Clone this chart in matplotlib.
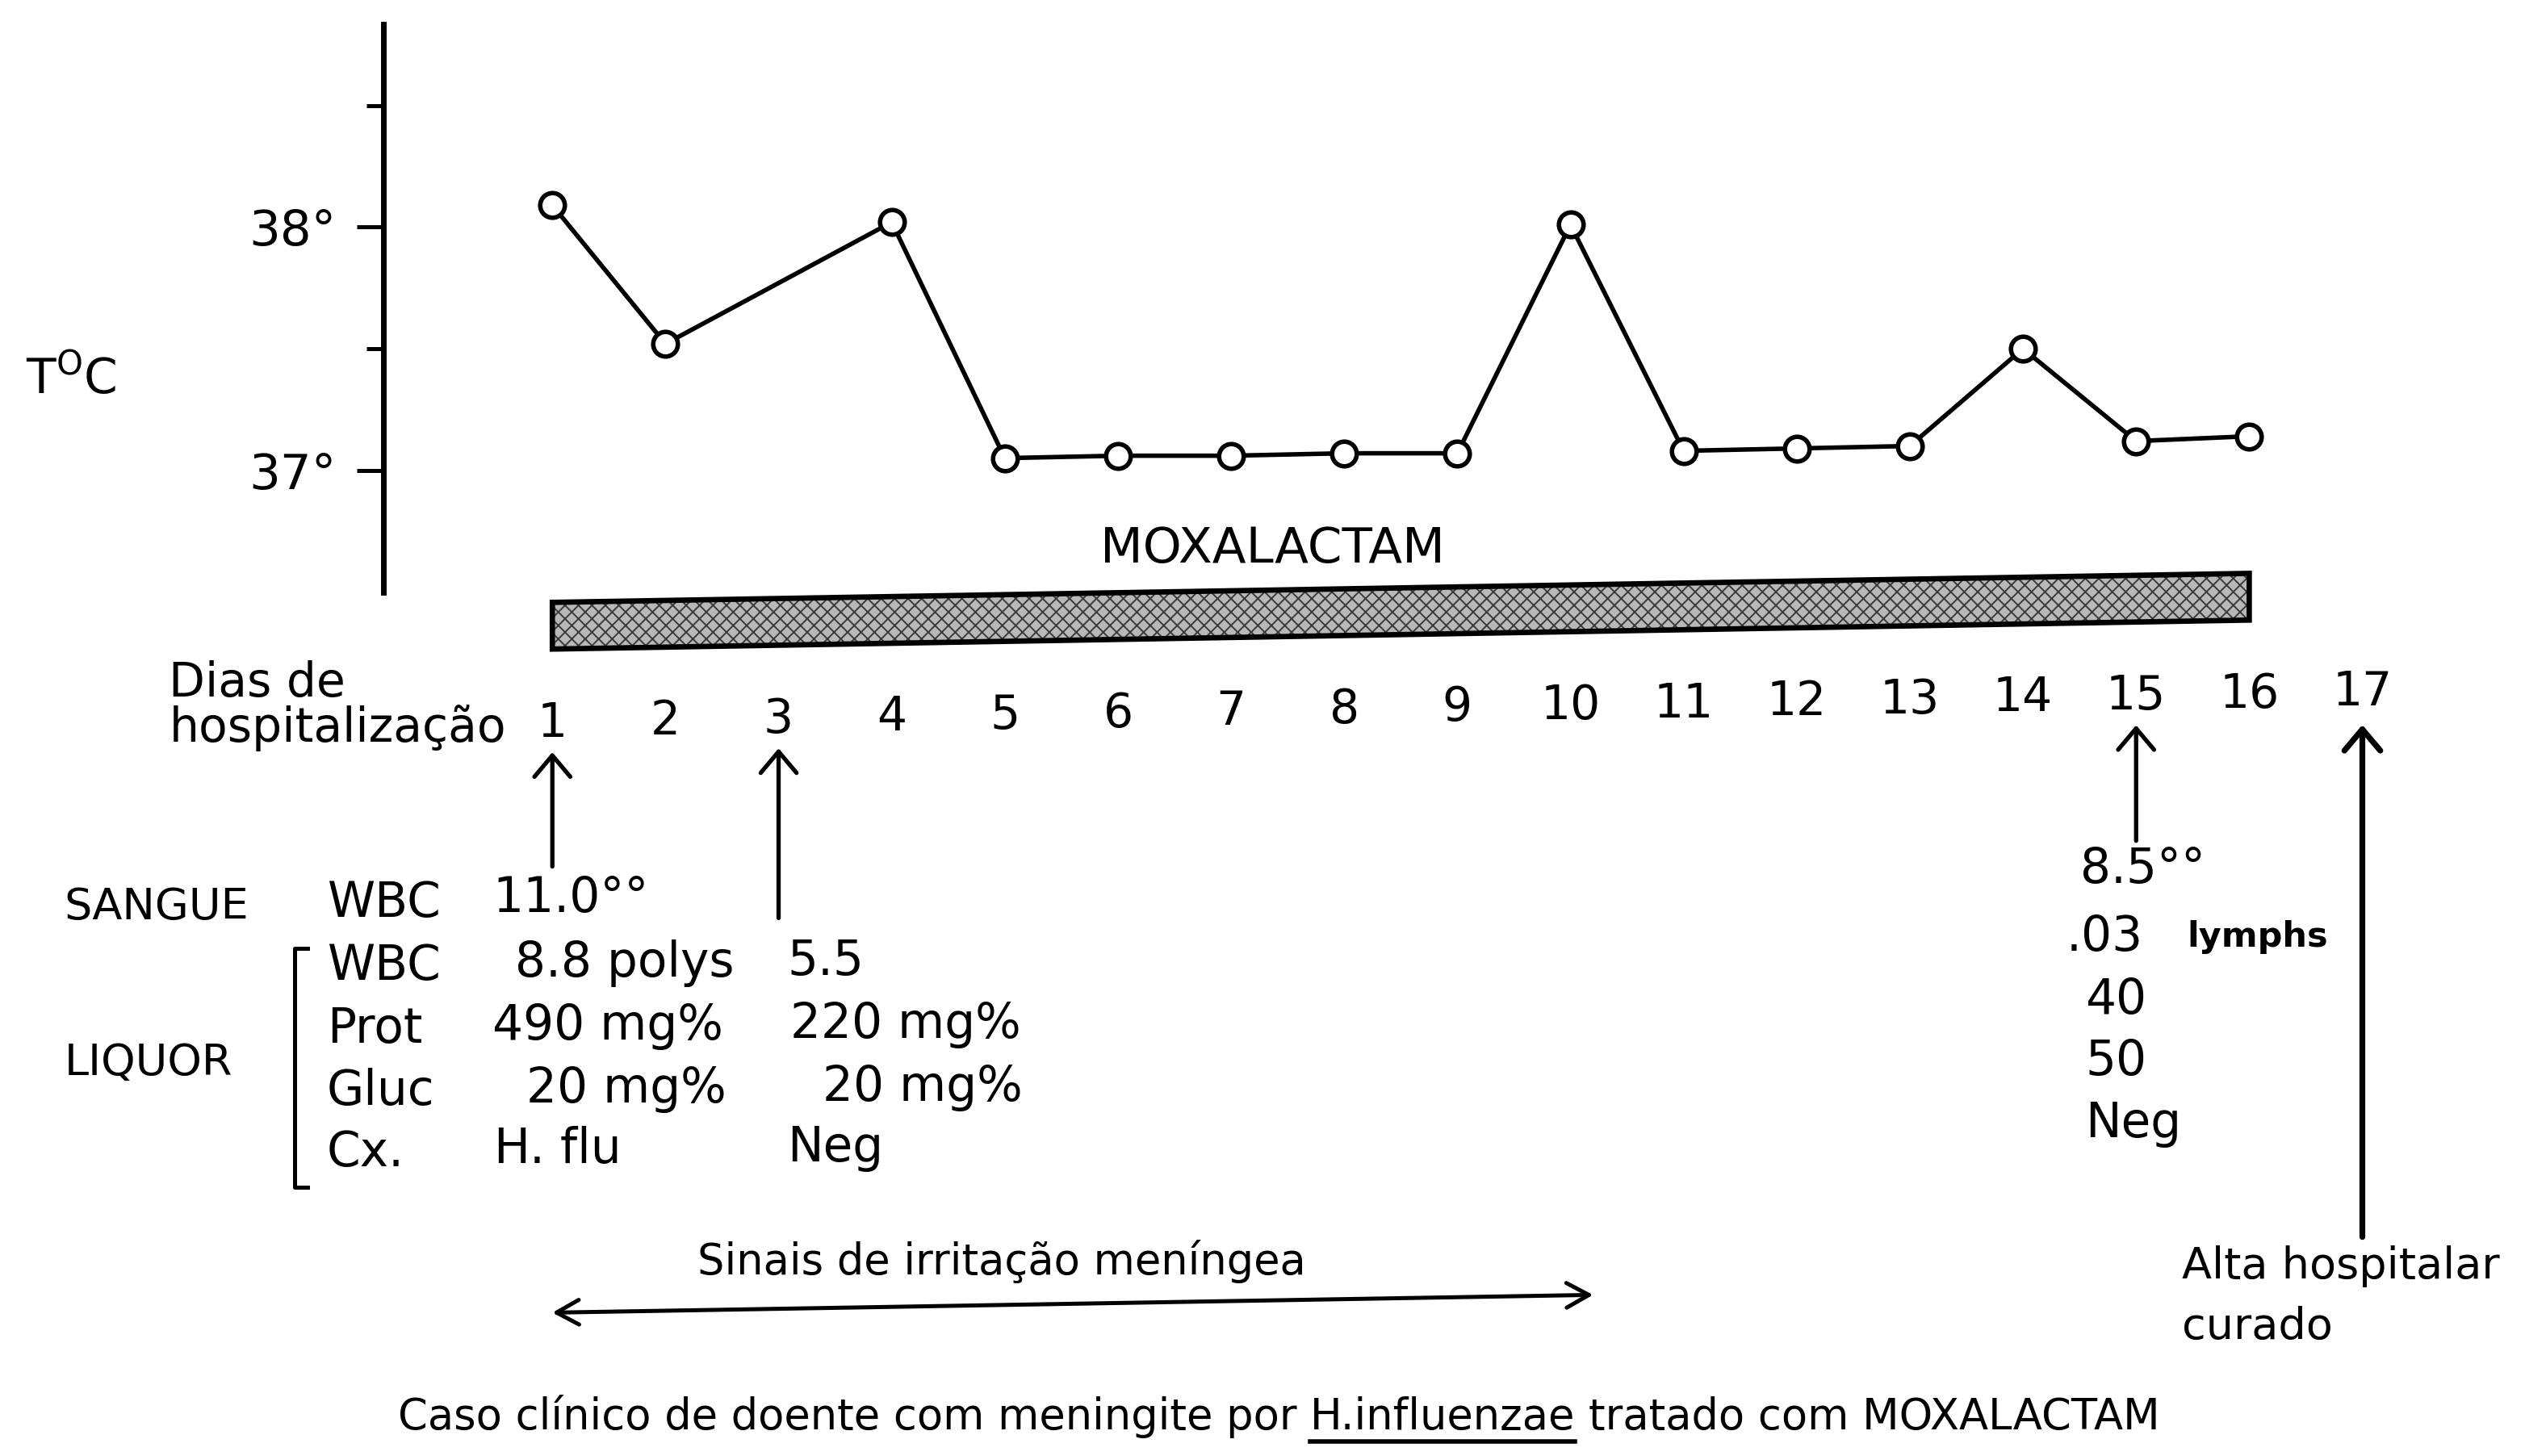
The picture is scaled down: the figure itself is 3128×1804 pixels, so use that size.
import matplotlib
matplotlib.use('Agg')
from matplotlib import pyplot as plt
from matplotlib import transforms
from matplotlib.patches import Polygon
from matplotlib.lines import Line2D

plt.rcParams['font.family'] = ['DejaVu Sans']
plt.rcParams['axes.spines.right'] = False
plt.rcParams['axes.spines.top'] = False
plt.rcParams['axes.spines.bottom'] = False
plt.rcParams['hatch.linewidth'] = 0.7

# temperature per hospital day (no reading on day 3)
days = [1, 2, 4, 5, 6, 7, 8, 9, 10, 11, 12, 13, 14, 15, 16]
temps = [38.09, 37.52, 38.02, 37.05, 37.06, 37.06, 37.07, 37.07, 38.01,
         37.08, 37.09, 37.10, 37.50, 37.12, 37.14]
day_ticks = list(range(1, 18))
temp_ticks = [37, 38]
temp_labels = ['37°', '38°']

treatment = (1, 16)          # MOXALACTAM
exam_days = [1, 3, 15]
discharge_day = 17
meningeal_signs = (1, 10.2)

# lab results
row_names = ['WBC', 'Prot', 'Gluc', 'Cx.']
day1_vals = ['8.8 polys', '490 mg%', '20 mg%', 'H. flu']
day3_vals = ['5.5', '220 mg%', '20 mg%', 'Neg']
day15_vals = ['.03', '40', '50', 'Neg']
blood_wbc = ['11.0°°', '8.5°°']

# layout grid (reference is 1568 x 904 at half size)
W, H = 1568.0, 904.0
def fx(x):
    return x / W
def fy(y):
    return 1 - y / H
SKEW = 1.2   # scan tilt, px per day


fig = plt.figure(figsize=(15.64, 9.02), dpi=200)
ax = fig.add_axes([fx(238), fy(368), fx(1500) - fx(238), fy(15) - fy(368)])
ax.patch.set_alpha(0)

ax.plot(days, temps, color='black', lw=2.0, marker='o', ms=11,
        mfc='white', mec='black', mew=2.0, clip_on=False)
ax.set_xlim((238 - 272.75) / 70.25, (1500 - 272.75) / 70.25)
ax.set_ylim(37 - (368 - 292) / 151, 37 + (292 - 15) / 151)
ax.set_xticks([])
ax.set_yticks(temp_ticks, temp_labels)
ax.set_yticks([37.5, 38.5], minor=True)
ax.tick_params(axis='y', which='major', length=12, width=1.8, labelsize=22, pad=9)
ax.tick_params(axis='y', which='minor', length=7.5, width=1.8)
ax.spines['left'].set_linewidth(2.5)

fig.text(fx(16), fy(236), r'T$^{\rm O}$C', fontsize=21.5, va='center', ha='left')

trans = transforms.blended_transform_factory(ax.transData, fig.transFigure)

# treatment bar
x0, x1 = treatment
sk = (x1 - x0) * SKEW
bar_pts = [(x0, fy(403)), (x1, fy(403 - sk)), (x1, fy(374 - sk)), (x0, fy(374))]
ax.add_patch(Polygon(bar_pts, closed=True, transform=trans, facecolor='#b8b8b8',
                     edgecolor='#3a3a3a', lw=0, hatch='xxxx', clip_on=False))
ax.add_patch(Polygon(bar_pts, closed=True, transform=trans, fill=False,
                     edgecolor='black', lw=2.4, clip_on=False))
fig.text(fx(790), fy(341), 'MOXALACTAM', fontsize=22, ha='center', va='center')

# day axis
fig.text(fx(105), fy(424), 'Dias de', fontsize=21, ha='left', va='center')
fig.text(fx(105), fy(452), 'hospitalização', fontsize=21, ha='left', va='center')
for d in day_ticks:
    ax.text(d, fy(449 - (d - 1) * SKEW), str(d), transform=trans, fontsize=21,
            ha='center', va='center')

arrow = dict(arrowstyle='->,head_length=0.95,head_width=0.8', lw=1.9, color='black',
             shrinkA=0, shrinkB=0)
tails = {1: 538, 3: 570, 15: 522}
for d in exam_days:
    ax.annotate('', xy=(d, fy(467 - (d - 1) * SKEW)), xycoords=trans,
                xytext=(d, fy(tails[d])), textcoords=trans, arrowprops=arrow,
                annotation_clip=False)
ax.annotate('', xy=(discharge_day, fy(450)), xycoords=trans,
            xytext=(discharge_day, fy(768)), textcoords=trans,
            arrowprops=dict(arrow, lw=2.6), annotation_clip=False)

# lab table
fs = 21.5
fig.text(fx(40), fy(563), 'SANGUE', fontsize=19.5, va='center')
fig.text(fx(203), fy(561), 'WBC', fontsize=fs, va='center')
fig.text(fx(306), fy(558), blood_wbc[0], fontsize=fs, va='center')
fig.text(fx(40), fy(660), 'LIQUOR', fontsize=19.5, va='center')
fig.add_artist(Line2D([fx(191), fx(183), fx(183), fx(191)],
                      [fy(589), fy(589), fy(737), fy(737)],
                      transform=fig.transFigure, color='black', lw=1.8))

row_y = [600, 639, 678, 716]
col1_x = [320, 306, 327, 307]
col2_x = [489, 491, 511, 489]
for i, name in enumerate(row_names):
    fig.text(fx(203), fy(row_y[i]), name, fontsize=fs, va='center')
    fig.text(fx(col1_x[i]), fy(row_y[i] - 2), day1_vals[i], fontsize=fs, va='center')
    fig.text(fx(col2_x[i]), fy(row_y[i] - 3), day3_vals[i], fontsize=fs, va='center')

fig.text(fx(1292), fy(540), blood_wbc[1], fontsize=fs, va='center')
col15_x = [1283, 1295, 1295, 1295]
col15_y = [582, 621, 659, 698]
for i, v in enumerate(day15_vals):
    fig.text(fx(col15_x[i]), fy(col15_y[i]), v, fontsize=fs, va='center')
fig.text(fx(1358), fy(582), 'lymphs', fontsize=15.5, fontweight='bold', va='center')

fig.text(fx(1355), fy(786), 'Alta hospitalar', fontsize=19.5, va='center')
fig.text(fx(1355), fy(824), 'curado', fontsize=19.5, va='center')

# meningeal signs span
m0, m1 = meningeal_signs
ax.annotate('', xy=(m0, fy(815)), xycoords=trans,
            xytext=(m1, fy(815 - (m1 - m0) * SKEW)), textcoords=trans,
            arrowprops=dict(arrowstyle='<->,head_length=1.0,head_width=0.55',
                            lw=1.8, color='black', shrinkA=0, shrinkB=0),
            annotation_clip=False)
fig.text(fx(622), fy(783), 'Sinais de irritação meníngea', fontsize=19,
         ha='center', va='center')

# caption with underlined species name
t1 = fig.text(fx(247), fy(893), 'Caso clínico de doente com meningite por',
              fontsize=19, ha='left', va='bottom')
t2 = ax.annotate('H.influenzae', xy=(1, 0), xycoords=t1, xytext=(6, 0),
                 textcoords='offset points', fontsize=19, ha='left', va='bottom',
                 annotation_clip=False)
t3 = ax.annotate('tratado com MOXALACTAM', xy=(1, 0), xycoords=t2, xytext=(6, 0),
                 textcoords='offset points', fontsize=19, ha='left', va='bottom',
                 annotation_clip=False)
fig.canvas.draw()
bb = t2.get_window_extent().transformed(fig.transFigure.inverted())
fig.add_artist(Line2D([bb.x0, bb.x1], [bb.y0 - 0.002, bb.y0 - 0.002],
                      transform=fig.transFigure, color='black', lw=2.0))

plt.savefig('out.png', dpi=200, facecolor='white')
